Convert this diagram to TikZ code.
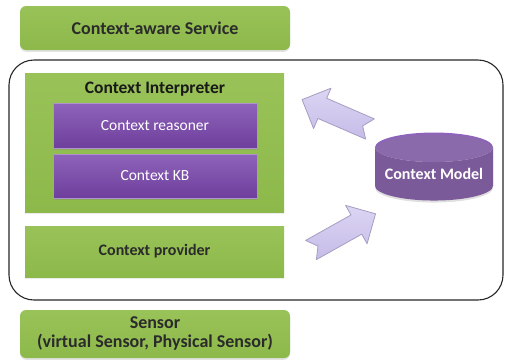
\documentclass[tikz,border=0pt]{standalone}
\usepackage{fontspec}
\setmainfont{Carlito}
\usetikzlibrary{shapes.geometric,shadows}
\definecolor{hoja}{HTML}{8DB84A}
\definecolor{hojaclara}{HTML}{99C358}
\definecolor{uva}{HTML}{6E3F9C}
\definecolor{uvaclara}{HTML}{8E63BA}
\definecolor{lila}{HTML}{DCD5F3}
\definecolor{liladensa}{HTML}{C6BCE8}
\definecolor{lilaborde}{HTML}{A59DC3}
\definecolor{tinta}{HTML}{2B2B2B}

\begin{document}
\begin{tikzpicture}[x=1pt,y=-1pt,
   capa/.style={top color=hojaclara,bottom color=hoja,draw=none,inner sep=0pt,
     text=tinta,font=\bfseries\fontsize{16}{18}\selectfont,align=center},
   externa/.style={capa,rounded corners=6pt,font=\bfseries\fontsize{18}{19}\selectfont,
     drop shadow={opacity=0.22,shadow xshift=0pt,shadow yshift=-1.8pt}},
   interna/.style={capa,drop shadow={opacity=0.15,shadow xshift=0pt,shadow yshift=-1.5pt}},
   bloque/.style={top color=uvaclara,bottom color=uva,draw=uvaclara!70!white,thin,
     minimum width=204pt,inner sep=0pt,text=white,font=\fontsize{15.5}{17}\selectfont,
     drop shadow={opacity=0.3,shadow xshift=0.8pt,shadow yshift=-1.5pt}},
   titulo/.style={text=black!90,font=\bfseries\fontsize{17.5}{19}\selectfont},
   marco/.style={draw=black!85,line width=1.1pt,rounded corners=25pt,inner sep=0pt},
   flecha/.pic={
     \draw[top color=lila,bottom color=liladensa,draw=lilaborde,line width=0.8pt,line join=round]
       (0,11) -- (52,11) -- (52,22) -- (74,0) -- (52,-22) -- (52,-11)
       -- (0,-11) -- (8,0) -- cycle;
   }]
  \useasboundingbox (0,0) rectangle (505,360);

  % marco del gestor de contexto
  \node[marco,minimum width=494pt,minimum height=240pt] (gestor) at (256,180) {};

  % --- capa de servicio ---
  \node[externa,minimum width=270pt,minimum height=44pt] (servicio) at (155,28)
    {Context-aware Service};

  % --- interprete ---
  \node[interna,minimum width=259pt,minimum height=139pt] (interprete) at (154.5,142.5) {};
  \node[titulo] (tituloint) at (155,89) {Context Interpreter};
  \node[bloque,minimum height=45pt] (razonador) at (155,125.5) {Context reasoner};
  \node[bloque,minimum height=44pt] (base) at (155,176) {Context KB};

  % --- proveedor ---
  \node[interna,minimum width=259pt,minimum height=51pt] (proveedor) at (154.5,251.5)
    {Context provider};

  % --- modelo ---
  \node[cylinder,shape border rotate=90,aspect=0.3,minimum width=118pt,minimum height=68pt,
     cylinder uses custom fill,cylinder body fill=uva!92!white,cylinder end fill=uvaclara,
     inner sep=0pt,text=white,font=\bfseries\fontsize{16}{18}\selectfont,
     drop shadow={opacity=0.25,shadow xshift=0pt,shadow yshift=-2pt}]
    (modelo) at (434,174) {Context Model};

  % flechas de bloque
  \pic[rotate=156.6] at (370,129) {flecha};
  \pic[rotate=29.3] at (311,250) {flecha};

  % --- capa de sensores ---
  \node[externa,minimum width=270pt,minimum height=48pt] (sensor) at (155,334)
    {Sensor\\(virtual Sensor, Physical Sensor)};
\end{tikzpicture}
\end{document}
